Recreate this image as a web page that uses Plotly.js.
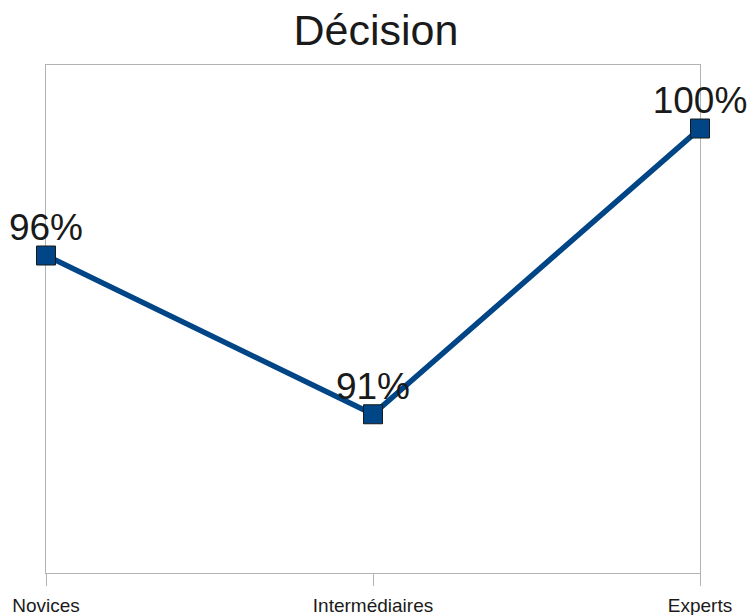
<!DOCTYPE html>
<html>
<head>
<meta charset="utf-8">
<script src="https://cdn.plot.ly/plotly-3.0.1.min.js"></script>
<style>html,body{margin:0;padding:0;background:#fff;}#chart{width:752px;height:615px;}</style>
</head>
<body>
<div id="chart"></div>
<script>
const categories = ["Novices", "Intermédiaires", "Experts"];
const values = [96, 91, 100];
const labels = ["96%", "91%", "100%"];
const chartTitle = "Décision";

const FONT = "'Liberation Sans', Arial, sans-serif";

const lineTrace = {
  x: categories,
  y: values,
  type: "scatter",
  mode: "lines+markers",
  line: {color: "#004586", width: 5.5},
  marker: {symbol: "square", size: 19, color: "#004586", line: {color: "#1a1a1a", width: 1}},
  cliponaxis: false,
  hoverinfo: "none"
};

const textTrace = {
  x: categories,
  y: values,
  type: "scatter",
  mode: "markers+text",
  text: labels,
  textposition: "top center",
  textfont: {family: FONT, size: 37, color: "#1a1a1a"},
  marker: {size: 8, opacity: 0},
  cliponaxis: false,
  hoverinfo: "none"
};

const layout = {
  width: 752, height: 615,
  margin: {l: 46, r: 52, t: 65, b: 42},
  paper_bgcolor: "#ffffff", plot_bgcolor: "#ffffff",
  showlegend: false,
  font: {family: FONT},
  title: {text: chartTitle, x: 0.5, xanchor: "center", y: 0.952, yanchor: "middle",
          font: {family: FONT, size: 43, color: "#1a1a1a"}},
  xaxis: {
    type: "category", range: [0, 2], layer: "below traces",
    showline: true, mirror: true, linecolor: "#b3b3b3", linewidth: 1,
    showgrid: false, zeroline: false,
    ticks: "outside", ticklen: 12, tickcolor: "#b3b3b3", tickwidth: 1,
    ticklabelstandoff: 3,
    tickfont: {family: FONT, size: 19, color: "#1a1a1a"}
  },
  yaxis: {
    range: [86, 102], layer: "below traces",
    showline: true, mirror: true, linecolor: "#b3b3b3", linewidth: 1,
    showgrid: false, zeroline: false, showticklabels: false, ticks: ""
  }
};

Plotly.newPlot("chart", [lineTrace, textTrace], layout, {displayModeBar: false, staticPlot: true});
</script>
</body>
</html>
